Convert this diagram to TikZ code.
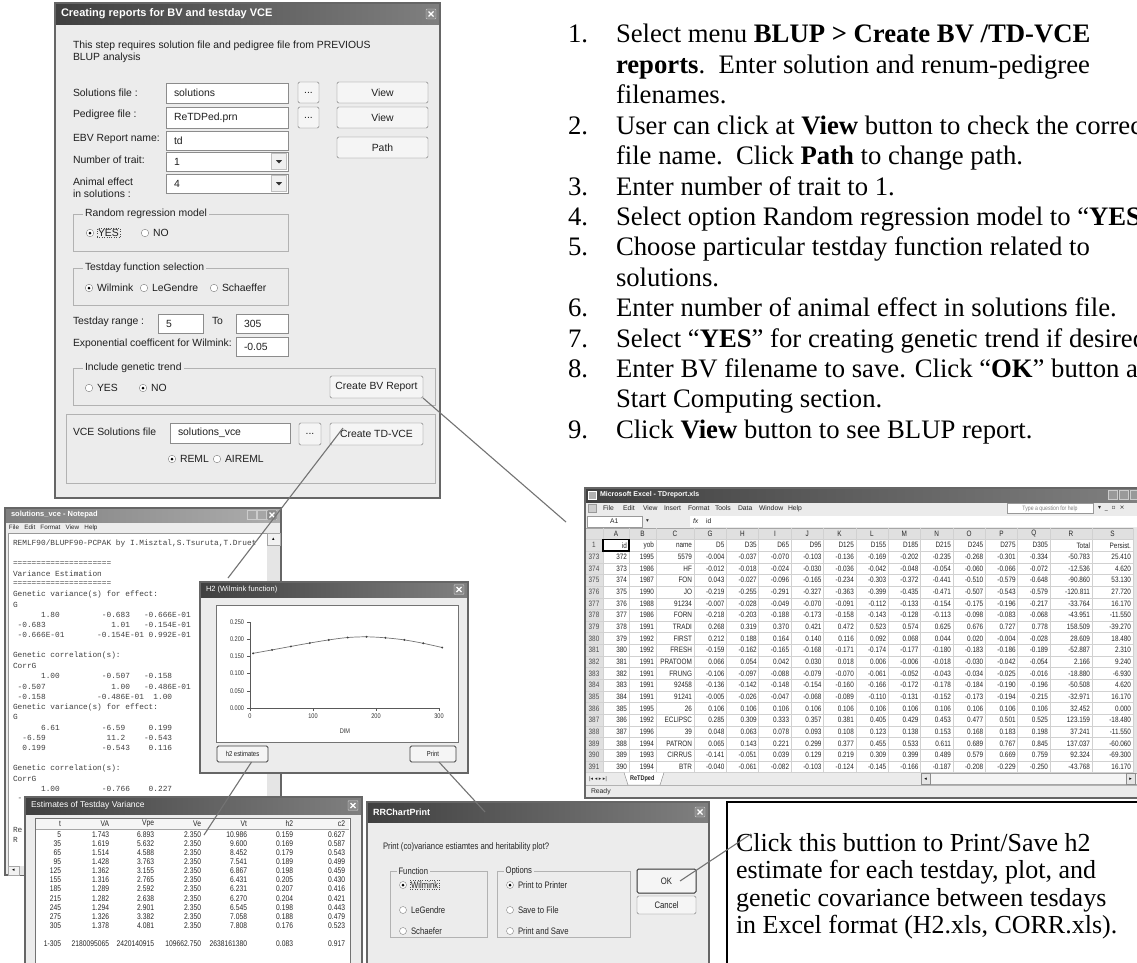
\documentclass[tikz,border=0pt]{standalone}
\usepackage{fontspec}
\setmainfont{Liberation Serif}
\newfontfamily\ui{Liberation Sans}
\newfontfamily\uin{Liberation Sans}[FakeStretch=0.82]
\newfontfamily\mono{Liberation Mono}
\newfontfamily\dejavu{DejaVu Sans}
\usetikzlibrary{calc}
\definecolor{dlg}{gray}{0.925}
\definecolor{lnk}{gray}{0.45}
\newcommand\sk[1]{\hspace*{#1\dimexpr0.6em\relax}}
\tikzset{
  every node/.style={inner sep=0pt,outer sep=0pt},
  uit/.style={font=\ui\fontsize{10.4}{12}\selectfont,anchor=west,text=black!88},
  rrtxt/.style={font=\uin\fontsize{9.4}{10}\selectfont,text=black!85,anchor=west},
  h2t/.style={font=\uin\fontsize{6.8}{8}\selectfont,text=black!80},
  etxt/.style={font=\uin\fontsize{8.2}{9}\selectfont,text=black!85,anchor=east},
  xltxt/.style={font=\uin\fontsize{7.8}{8}\selectfont,text=black!85},
  xlm/.style={font=\ui\fontsize{6.8}{8}\selectfont,text=black!85,anchor=west},
  ttl/.style={font=\ui\bfseries\fontsize{11}{13}\selectfont,text=white,anchor=west},
  tact/.style={left color=black!75,right color=black!50},
  tinact/.style={left color=black!50,right color=black!32},
  tbox/.style={draw=black!45,fill=white,anchor=north west},
  btn/.style={draw=black!55,fill=black!4,rounded corners=1.5,anchor=north west,font=\ui\fontsize{10.4}{12}\selectfont,text=black!88},
  radio/.style={circle,draw=black!50,fill=white,minimum size=7.5pt},
  radioon/.style={radio,path picture={\fill[black] (path picture bounding box.center) circle (1.5pt);}},
  closebox/.style={draw=white!80!black,fill=black!45,rounded corners=1pt,minimum size=10pt,
     path picture={\draw[white,line width=1.1pt]
       ($(path picture bounding box.south west)+(2.5pt,2.5pt)$)--($(path picture bounding box.north east)+(-2.5pt,-2.5pt)$)
       ($(path picture bounding box.north west)+(2.5pt,-2.5pt)$)--($(path picture bounding box.south east)+(-2.5pt,2.5pt)$);}},
  conn/.style={draw=lnk,line width=1.1pt},
  listtxt/.style={font=\fontsize{26.7}{30}\selectfont,anchor=base west},
  co/.style={font=\fontsize{26}{28}\selectfont,anchor=base west},
  np/.style={font=\mono\fontsize{7.8}{9}\selectfont,anchor=west,text=black!75},
}
% window: name x1 y1 x2 y2 titleheight titlestyle title
\newcommand\win[8]{%
  \fill[dlg] (#2,#3) rectangle (#4,#5);
  \shade[#7] (#2,#3) rectangle (#4,{#3+#6});
  \draw[black!60,line width=1.2pt] (#2,#3) rectangle (#4,#5);
  \node[closebox] (#1-close) at ({#4-9},{#3+#6/2}) {};
  \node[ttl] (#1-title) at ({#2+6},{#3+#6/2}) {#8};
}
\newcommand\tb[6]{%
  \node[tbox,minimum width={#4-#2},minimum height={#5-#3}] (#1) at (#2,#3) {};
  \node[uit] (#1-txt) at ([xshift=8pt]#1.west) {#6};
}
\newcommand\cb[6]{%
  \tb{#1}{#2}{#3}{#4}{#5}{#6}
  \node[draw=black!25,fill=black!6,anchor=north east,minimum width=15,minimum height={#5-#3-3}] (#1-btn) at ({#4-1.5},{#3+1.5}) {};
  \fill[black!80] ($(#1-btn.center)+(-3.2pt,1.5pt)$) -- ++(6.4pt,0) -- ++(-3.2pt,-3.5pt) -- cycle;
}
\newcommand\bt[7][]{\node[btn,minimum width={#5-#3},minimum height={#6-#4},#1] (#2) at (#3,#4) {#7};}
\newcommand\grp[6]{%
  \draw[black!30] (#2,#3) rectangle (#4,#5);
  \node[uit,fill=dlg,inner xsep=2pt] (#1) at ({#2+10},#3) {#6};
}
\newcommand\rd[6]{%
  \node[#2] (#1) at (#3,#4) {};
  \node[uit] (#1-l) at (#5,#4) {#6};
}
\newcommand\xrow[6]{%
  \pgfmathsetmacro\yy{545.3+11.65*#1}
  \node[xltxt,anchor=center,text=black!70] (xl-rn#1) at (594,\yy) {#2};
  \node[xltxt,anchor=east] (xl-a#1) at (627,\yy) {#3};
  \node[xltxt,anchor=east] (xl-b#1) at (654,\yy) {#4};
  \node[xltxt,anchor=east] (xl-c#1) at (692,\yy) {#5};
  \foreach \v [count=\c] in {#6} {
    \pgfmathsetmacro\xr{ifthenelse(\c<12,694+32.36*\c,ifthenelse(\c==12,1092,1133))-2}
    \node[xltxt,anchor=east] (xl-\c-#1) at (\xr,\yy) {\v};
  }
}
\begin{document}
\begin{tikzpicture}[x=1pt,y=-1pt]
\useasboundingbox (0,0) rectangle (1137,963);
\clip (0,0) rectangle (1137,963);
\fill[white] (0,0) rectangle (1137,963);

%% ================= main dialog
\win{md}{55}{3}{440}{498}{22}{tact}{Creating reports for BV and testday VCE}
\node[uit] (intro1) at (73,46) {This step requires solution file and pedigree file from PREVIOUS};
\node[uit] (intro2) at (73,57.5) {BLUP analysis};
\node[uit] (lsol) at (73,93) {Solutions file :};
\tb{tsol}{166}{83}{288}{103}{solutions}
\bt{bsol}{298}{82}{319}{103}{...}
\bt{vsol}{337}{82}{428}{103}{View}
\node[uit] (lped) at (73,115) {Pedigree file :};
\tb{tped}{166}{107}{288}{128}{ReTDPed.prn}
\bt{bped}{298}{107}{319}{128}{...}
\bt{vped}{337}{107}{428}{128}{View}
\node[uit] (lebv) at (73,139) {EBV Report name:};
\tb{tebv}{166}{131}{288}{150}{td}
\bt{pathb}{337}{137}{428}{158}{Path}
\node[uit] (lnt) at (73,160) {Number of trait:};
\cb{cnt}{166}{152}{288}{171}{1}
\node[uit] (lae1) at (73,182) {Animal effect};
\node[uit] (lae2) at (73,194) {in solutions :};
\cb{cae}{166}{174}{288}{193}{4}
\grp{grr}{73}{214}{288}{251}{Random regression model}
\node[radioon] (rrm-yes) at (90,233) {};
\node[uit,draw=black!70,dotted,inner sep=1pt] (rrm-yes-l) at (97,233) {YES};
\rd{rrm-no}{radio}{145}{233}{153}{NO}
\grp{gtf}{73}{268}{288}{305}{Testday function selection}
\rd{tf-w}{radioon}{89}{288}{97}{Wilmink}
\rd{tf-l}{radio}{144}{288}{152}{LeGendre}
\rd{tf-s}{radio}{214}{288}{222}{Schaeffer}
\node[uit] (ltr) at (73,322) {Testday range :};
\tb{tr1}{158}{314}{203}{333}{5}
\node[uit] (lto) at (212,321) {To};
\tb{tr2}{236}{314}{288}{333}{305}
\node[uit] (lexp) at (73,344) {Exponential coefficent for Wilmink:};
\tb{texp}{236}{337}{288}{356}{-0.05}
\grp{ggt}{73}{368}{435}{405}{Include genetic trend}
\rd{gt-y}{radio}{89}{388}{97}{YES}
\rd{gt-n}{radioon}{143}{388}{151}{NO}
\bt{cbv}{330}{376}{423}{398}{Create BV Report}
\draw[black!30] (66,414) rectangle (435,483);
\node[uit] (lvce) at (73,432) {VCE Solutions file};
\tb{tvce}{170}{423}{290}{443}{solutions\_vce}
\bt{bvce}{299}{423}{321}{445}{...}
\bt{ctd}{330}{423}{423}{445}{Create TD-VCE}
\rd{vc-r}{radioon}{172}{459}{180}{REML}
\rd{vc-a}{radio}{217}{459}{225}{AIREML}

%% ================= instruction list
\foreach \k/\num/\txt in {
  0/1./{Select menu \textbf{BLUP > Create BV /TD-VCE}},
  1//{\textbf{reports}.\ \ Enter solution and renum-pedigree},
  2//{filenames.},
  3/2./{User can click at \textbf{View} button to check the correct},
  4//{file name.\ \ Click \textbf{Path} to change path.},
  5/3./{Enter number of trait to 1.},
  6/4./{Select option Random regression model to “\textbf{YES}”.},
  7/5./{Choose particular testday function related to},
  8//{solutions.},
  9/6./{Enter number of animal effect in solutions file.},
  10/7./{Select “\textbf{YES}” for creating genetic trend if desired.},
  11/8./{Enter BV filename to save. Click “\textbf{OK}” button at},
  12//{Start Computing section.},
  13/9./{Click \textbf{View} button to see BLUP report.}} {
  \pgfmathsetmacro\yy{43+30.4*\k}
  \node[listtxt] (li-n\k) at (568,\yy) {\num};
  \node[listtxt] (li-t\k) at (616,\yy) {\txt};
}

%% ================= Notepad
\win{np}{5}{508}{281}{875}{14}{tinact}{\fontsize{7.5}{9}\selectfont solutions\_vce - Notepad}
\node[draw=white!80!black,fill=black!35,minimum size=9pt] (np-min) at (252,515) {};
\node[draw=white!80!black,fill=black!35,minimum size=9pt] (np-max) at (262,515) {};
\node[xlm,font=\ui\fontsize{6.3}{7}\selectfont] (np-menu) at (9,527.5) {File\ \ \ Edit\ \ \ Format\ \ \ View\ \ \ Help};
\fill[white] (8,533) rectangle (267,866);
\draw[black!40] (8,533) rectangle (267,866);
\fill[black!10] (267,533) rectangle (280,866);
\node[draw=black!35,fill=black!5,anchor=north west,minimum width=13,minimum height=12,font=\dejavu\fontsize{5}{6}\selectfont] (np-up) at (267,533) {▴};
\fill[black!10] (8,866) rectangle (267,875);
\node[draw=black!35,fill=black!5,anchor=north west,minimum width=11,minimum height=9,font=\dejavu\fontsize{5}{6}\selectfont] (np-left) at (8,866) {◂};
\begin{scope}
\clip (8,533) rectangle (267,866);
\node[np] (np0) at (13,543) {REMLF90/BLUPF90-PCPAK by I.Misztal,S.Tsuruta,T.Druet};
\node[np] (np2) at (13,563.5) {=====================};
\node[np] (np3) at (13,573.75) {Variance Estimation};
\node[np] (np4) at (13,584) {=====================};
\node[np] (np5) at (13,594.25) {Genetic variance(s) for effect:};
\node[np] (np6) at (13,604.5) {G};
\node[np] (np7) at (13,614.75) {\sk{6}1.80\sk{9}-0.683\sk{3}-0.666E-01};
\node[np] (np8) at (13,625) {\sk{1}-0.683\sk{14}1.01\sk{3}-0.154E-01};
\node[np] (np9) at (13,635.25) {\sk{1}-0.666E-01\sk{7}-0.154E-01\sk{1}0.992E-01};
\node[np] (np11) at (13,655.75) {Genetic correlation(s):};
\node[np] (np12) at (13,666) {CorrG};
\node[np] (np13) at (13,676.25) {\sk{6}1.00\sk{9}-0.507\sk{3}-0.158};
\node[np] (np14) at (13,686.5) {\sk{1}-0.507\sk{14}1.00\sk{3}-0.486E-01};
\node[np] (np15) at (13,696.75) {\sk{1}-0.158\sk{11}-0.486E-01\sk{2}1.00};
\node[np] (np16) at (13,707) {Genetic variance(s) for effect:};
\node[np] (np17) at (13,717.25) {G};
\node[np] (np18) at (13,727.5) {\sk{6}6.61\sk{9}-6.59\sk{5}0.199};
\node[np] (np19) at (13,737.75) {\sk{2}-6.59\sk{13}11.2\sk{4}-0.543};
\node[np] (np20) at (13,748) {\sk{2}0.199\sk{12}-0.543\sk{4}0.116};
\node[np] (np22) at (13,768.5) {Genetic correlation(s):};
\node[np] (np23) at (13,778.75) {CorrG};
\node[np] (np24) at (13,789) {\sk{6}1.00\sk{9}-0.766\sk{4}0.227};
\node[np] (np25) at (13,799.25) {\sk{1}-};
\node[np] (np28) at (13,830) {Re};
\node[np] (np29) at (13,840.25) {R};
\end{scope}

%% ================= H2 window
\win{h2}{200}{582}{468}{773}{15}{tact}{\fontsize{7.5}{9}\selectfont\mdseries H2 (Wilmink function)}
\node[draw=black!55,fill=white,anchor=north west,minimum width=242,minimum height=137] (h2frame) at (216,605) {};
\draw[black!65] (250,622) -- (250,708) -- (439,708);
\foreach \v/\lab [count=\i] in {0/0.000,1/0.050,2/0.100,3/0.150,4/0.200,5/0.250} {
  \pgfmathsetmacro\yy{708-17.2*\v}
  \draw[black!65] (247,\yy) -- (250,\yy);
  \node[h2t,anchor=east] (h2y\i) at (244,\yy) {\lab};
}
\foreach \t/\lab [count=\i] in {0/0,100/100,200/200,300/300} {
  \pgfmathsetmacro\xx{250+0.63*\t}
  \draw[black!65] (\xx,708) -- (\xx,711);
  \node[h2t,anchor=north] (h2x\i) at (\xx,714) {\lab};
}
\node[h2t] (h2dim) at (345,731) {DIM};
\draw[black!55,line width=0.7pt] plot[smooth] coordinates {(253.15,653.3) (272.05,649.9) (290.95,646.4) (309.85,643) (328.75,639.9) (347.65,637.5) (366.55,636.8) (385.45,637.8) (404.35,639.9) (423.25,643.3) (442.15,647.5)};
\foreach \xx/\yy in {253.15/653.3,272.05/649.9,290.95/646.4,309.85/643,328.75/639.9,347.65/637.5,366.55/636.8,385.45/637.8,404.35/639.9,423.25/643.3,442.15/647.5}
  \fill[black!75] (\xx,\yy) circle (1.1pt);
\bt[font=\uin\fontsize{7.2}{8}\selectfont,draw=black!75,line width=0.9pt]{h2est}{217}{746}{268}{762}{h2 estimates}
\bt[font=\uin\fontsize{7.2}{8}\selectfont,draw=black!75,line width=0.9pt]{h2print}{410}{746}{456}{762}{Print}

%% ================= Estimates window
\win{est}{25}{797}{362}{985}{17}{tact}{\fontsize{8.5}{10}\selectfont\mdseries Estimates of Testday Variance}
\node[draw=black!55,fill=white,anchor=north west,minimum width=315,minimum height=145] (estlist) at (35,818) {};
\fill[black!4] (36,819) rectangle (349,829);
\draw[black!35] (36,829) -- (349,829);
\foreach \h/\xx [count=\i] in {t/61,VA/109,Vpe/154,Ve/201,Vt/247,h2/293,c2/345}
  \node[etxt] (est-h\i) at (\xx,824) {\h};
\foreach \ta/\va/\vp/\ve/\vt/\hh/\cc [count=\i] in {5/1.743/6.893/2.350/10.986/0.159/0.627,35/1.619/5.632/2.350/9.600/0.169/0.587,65/1.514/4.588/2.350/8.452/0.179/0.543,95/1.428/3.763/2.350/7.541/0.189/0.499,125/1.362/3.155/2.350/6.867/0.198/0.459,155/1.316/2.765/2.350/6.431/0.205/0.430,185/1.289/2.592/2.350/6.231/0.207/0.416,215/1.282/2.638/2.350/6.270/0.204/0.421,245/1.294/2.901/2.350/6.545/0.198/0.443,275/1.326/3.382/2.350/7.058/0.188/0.479,305/1.378/4.081/2.350/7.808/0.176/0.523} {
  \pgfmathsetmacro\yy{834.5+9.1*(\i-1)}
  \node[etxt] (est-t\i) at (61,\yy) {\ta};
  \node[etxt] (est-va\i) at (109,\yy) {\va};
  \node[etxt] (est-vp\i) at (154,\yy) {\vp};
  \node[etxt] (est-ve\i) at (201,\yy) {\ve};
  \node[etxt] (est-vt\i) at (247,\yy) {\vt};
  \node[etxt] (est-h2\i) at (293,\yy) {\hh};
  \node[etxt] (est-c2\i) at (345,\yy) {\cc};
}
\node[etxt] (est-tt) at (61,944) {1-305};
\node[etxt] (est-tva) at (109,944) {2180095065};
\node[etxt] (est-tvp) at (154,944) {2420140915};
\node[etxt] (est-tve) at (201,944) {109662.750};
\node[etxt] (est-tvt) at (247,944) {2638161380};
\node[etxt] (est-th2) at (293,944) {0.083};
\node[etxt] (est-tc2) at (345,944) {0.917};

%% ================= RRChartPrint
\win{rr}{367}{802}{709}{985}{20}{tact}{\fontsize{9}{10}\selectfont RRChartPrint}
\node[rrtxt] (rrq) at (383,847) {Print (co)variance estiamtes and heritability plot?};
\draw[black!30] (390,871) rectangle (487,937);
\node[rrtxt,fill=dlg,inner xsep=1.5pt] (rrgf) at (397,871) {Function};
\draw[black!30] (497,871) rectangle (630,937);
\node[rrtxt,fill=dlg,inner xsep=1.5pt] (rrgo) at (504,871) {Options};
\node[radioon,minimum size=7pt] (rr-w) at (403,885) {};
\node[rrtxt,draw=black!70,dotted,inner sep=1.2pt] (rr-w-l) at (410,885) {Wilmink};
\node[radio,minimum size=7pt] (rr-l) at (403,910) {};
\node[rrtxt] (rr-l-l) at (411,910) {LeGendre};
\node[radio,minimum size=7pt] (rr-s) at (403,931) {};
\node[rrtxt] (rr-s-l) at (411,931) {Schaefer};
\node[radioon,minimum size=7pt] (rr-p) at (510,885) {};
\node[rrtxt] (rr-p-l) at (518,885) {Print to Printer};
\node[radio,minimum size=7pt] (rr-f) at (510,910) {};
\node[rrtxt] (rr-f-l) at (518,910) {Save to File};
\node[radio,minimum size=7pt] (rr-b) at (510,931) {};
\node[rrtxt] (rr-b-l) at (518,931) {Print and Save};
\bt[font=\uin\fontsize{9.4}{10}\selectfont,draw=black!80,line width=1pt]{okbtn}{637}{869}{696}{893}{OK}
\bt[font=\uin\fontsize{9.4}{10}\selectfont]{cancelbtn}{637}{896}{696}{914}{Cancel}

%% ================= callout
\node[draw=black,line width=1.4pt,fill=white,anchor=north west,minimum width=430,minimum height=190] (callout) at (727,802) {};
\node[co] (co1) at (736,851) {Click this buttion to Print/Save h2};
\node[co] (co2) at (736,878) {estimate for each testday, plot, and};
\node[co] (co3) at (736,906) {genetic covariance between tesdays};
\node[co] (co4) at (736,933) {in Excel format (H2.xls, CORR.xls).};

%% ================= Excel
\fill[black!8] (585,488) rectangle (1140,798);
\shade[tact] (585,488) rectangle (1140,502);
\node[draw=white,fill=black!30,minimum size=8pt] (xl-ico) at (592,495) {};
\node[ttl,font=\ui\bfseries\fontsize{7}{8}\selectfont] (xl-title) at (600,495) {Microsoft Excel - TDreport.xls};
\foreach \xx [count=\i] in {1113,1124,1135}
  \node[draw=white!80!black,fill=black!40,minimum size=9pt] (xl-wb\i) at (\xx,495) {};
\node[draw=black!40,fill=black!20,minimum size=8pt] (xl-ico2) at (592,508.5) {};
\foreach \m/\xx [count=\i] in {File/603,Edit/623,View/643,Insert/664,Format/688,Tools/715,Data/738,Window/759,Help/788}
  \node[xlm] (xl-m\i) at (\xx,508.5) {\m};
\node[draw=black!40,fill=white,anchor=north west,minimum width=86,minimum height=10,font=\uin\fontsize{6.3}{7}\selectfont,text=black!50] (xl-help) at (1007,503.5) {Type a question for help};
\node[xlm,font=\dejavu\fontsize{6}{7}\selectfont] (xl-ctl) at (1098,508.5) {▾\ \ \_\ \ ▫\ \ ×};
\fill[white] (690,516) rectangle (1137,527);
\node[draw=black!40,fill=white,anchor=north west,minimum width=55,minimum height=11] (xl-name) at (587,516) {};
\node[xlm] (xl-a1) at (610,521.5) {A1};
\node[xlm,font=\dejavu\fontsize{5.5}{6}\selectfont] (xl-dd) at (646,521.5) {▾};
\node[xlm,font=\ui\itshape\fontsize{6.8}{8}\selectfont] (xl-fx) at (693,521.5) {fx};
\node[xlm] (xl-id) at (706,521.5) {id};
\fill[black!12] (585,528) rectangle (1133,539.5);
\fill[black!12] (585,539.5) rectangle (603,772.5);
\fill[white] (603,539.5) rectangle (1133,772.5);
\fill[black!10] (1133,528) rectangle (1137,772.5);
\foreach \k in {0,...,20}
  \draw[black!18,line width=0.5pt] (585,{539.5+11.65*\k}) -- (1133,{539.5+11.65*\k});
\draw[black!35,line width=0.5pt] (585,528) -- (1133,528);
\foreach \xx in {603,629,656,694,726.4,758.7,791.1,823.4,855.8,888.2,920.5,952.9,985.2,1017.6,1050,1092,1133}
  \draw[black!18,line width=0.5pt] (\xx,528) -- (\xx,772.5);
\foreach \l/\xx [count=\i] in {A/616,B/642.5,C/675,G/710.2,H/742.5,I/774.9,J/807.3,K/839.6,L/872,M/904.3,N/936.7,O/969.1,P/1001.4,Q/1033.8,R/1071,S/1112.5}
  \node[xltxt] (xl-col\i) at (\xx,533.8) {\l};
\xrow{0}{1}{id}{yob}{name}{D5,D35,D65,D95,D125,D155,D185,D215,D245,D275,D305,Total,Persist.}
\xrow{1}{373}{372}{1995}{5579}{-0.004,-0.037,-0.070,-0.103,-0.136,-0.169,-0.202,-0.235,-0.268,-0.301,-0.334,-50.783,25.410}
\xrow{2}{374}{373}{1986}{HF}{-0.012,-0.018,-0.024,-0.030,-0.036,-0.042,-0.048,-0.054,-0.060,-0.066,-0.072,-12.536,4.620}
\xrow{3}{375}{374}{1987}{FON}{0.043,-0.027,-0.096,-0.165,-0.234,-0.303,-0.372,-0.441,-0.510,-0.579,-0.648,-90.860,53.130}
\xrow{4}{376}{375}{1990}{JO}{-0.219,-0.255,-0.291,-0.327,-0.363,-0.399,-0.435,-0.471,-0.507,-0.543,-0.579,-120.811,27.720}
\xrow{5}{377}{376}{1988}{91234}{-0.007,-0.028,-0.049,-0.070,-0.091,-0.112,-0.133,-0.154,-0.175,-0.196,-0.217,-33.764,16.170}
\xrow{6}{378}{377}{1986}{FORN}{-0.218,-0.203,-0.188,-0.173,-0.158,-0.143,-0.128,-0.113,-0.098,-0.083,-0.068,-43.951,-11.550}
\xrow{7}{379}{378}{1991}{TRADI}{0.268,0.319,0.370,0.421,0.472,0.523,0.574,0.625,0.676,0.727,0.778,158.509,-39.270}
\xrow{8}{380}{379}{1992}{FIRST}{0.212,0.188,0.164,0.140,0.116,0.092,0.068,0.044,0.020,-0.004,-0.028,28.609,18.480}
\xrow{9}{381}{380}{1992}{FRESH}{-0.159,-0.162,-0.165,-0.168,-0.171,-0.174,-0.177,-0.180,-0.183,-0.186,-0.189,-52.887,2.310}
\xrow{10}{382}{381}{1991}{PRATOOM}{0.066,0.054,0.042,0.030,0.018,0.006,-0.006,-0.018,-0.030,-0.042,-0.054,2.166,9.240}
\xrow{11}{383}{382}{1991}{FRUNG}{-0.106,-0.097,-0.088,-0.079,-0.070,-0.061,-0.052,-0.043,-0.034,-0.025,-0.016,-18.880,-6.930}
\xrow{12}{384}{383}{1991}{92458}{-0.136,-0.142,-0.148,-0.154,-0.160,-0.166,-0.172,-0.178,-0.184,-0.190,-0.196,-50.508,4.620}
\xrow{13}{385}{384}{1991}{91241}{-0.005,-0.026,-0.047,-0.068,-0.089,-0.110,-0.131,-0.152,-0.173,-0.194,-0.215,-32.971,16.170}
\xrow{14}{386}{385}{1995}{26}{0.106,0.106,0.106,0.106,0.106,0.106,0.106,0.106,0.106,0.106,0.106,32.452,0.000}
\xrow{15}{387}{386}{1992}{ECLIPSC}{0.285,0.309,0.333,0.357,0.381,0.405,0.429,0.453,0.477,0.501,0.525,123.159,-18.480}
\xrow{16}{388}{387}{1996}{39}{0.048,0.063,0.078,0.093,0.108,0.123,0.138,0.153,0.168,0.183,0.198,37.241,-11.550}
\xrow{17}{389}{388}{1994}{PATRON}{0.065,0.143,0.221,0.299,0.377,0.455,0.533,0.611,0.689,0.767,0.845,137.037,-60.060}
\xrow{18}{390}{389}{1993}{CIRRUS}{-0.141,-0.051,0.039,0.129,0.219,0.309,0.399,0.489,0.579,0.669,0.759,92.324,-69.300}
\xrow{19}{391}{390}{1994}{BTR}{-0.040,-0.061,-0.082,-0.103,-0.124,-0.145,-0.166,-0.187,-0.208,-0.229,-0.250,-43.768,16.170}
\draw[black,line width=1.4pt] (603,539.5) rectangle (629,551.15);
% tab bar and status bar
\node[xlm,font=\dejavu\fontsize{5}{6}\selectfont] (xl-nav) at (589,778.7) {|◂\ ◂\ ▸\ ▸|};
\draw[black!50,fill=white] (624,772.5) -- (628,785) -- (660,785) -- (664,772.5);
\node[xlm,font=\uin\bfseries\fontsize{6.8}{8}\selectfont] (xl-tab) at (630,778.7) {ReTDped};
\node[draw=black!35,fill=black!4,anchor=north west,minimum width=216,minimum height=11] (xl-hs) at (921,773.5) {};
\node[draw=black!45,fill=black!10,anchor=north west,minimum width=9,minimum height=11,font=\dejavu\fontsize{5}{6}\selectfont] (xl-hl) at (921,773.5) {◂};
\node[draw=black!45,fill=black!10,anchor=north west,minimum width=9,minimum height=11,font=\dejavu\fontsize{5}{6}\selectfont] (xl-hr) at (1126,773.5) {▸};
\draw[black!30] (585,785) -- (1137,785);
\node[xlm] (xl-ready) at (591,791.5) {Ready};
\draw[black!60,line width=1.2pt] (585,488) rectangle (1140,798);

%% ================= connectors
\coordinate (e1) at (566,522);
\coordinate (e2) at (228,578);
\coordinate (e3) at (204,835);
\coordinate (e4) at (485,812);
\coordinate (e5) at (751,834);
\draw[conn] (cbv.south east) -- (e1);
\draw[conn] ([xshift=13pt,yshift=-5pt]ctd.north west) -- (e2);
\draw[conn] ([xshift=9pt]h2est.south) -- (e3);
\draw[conn] ([xshift=6pt]h2print.south) -- (e4);
\draw[conn] (e5) -- ([xshift=-16pt]okbtn.east);
\end{tikzpicture}
\end{document}
